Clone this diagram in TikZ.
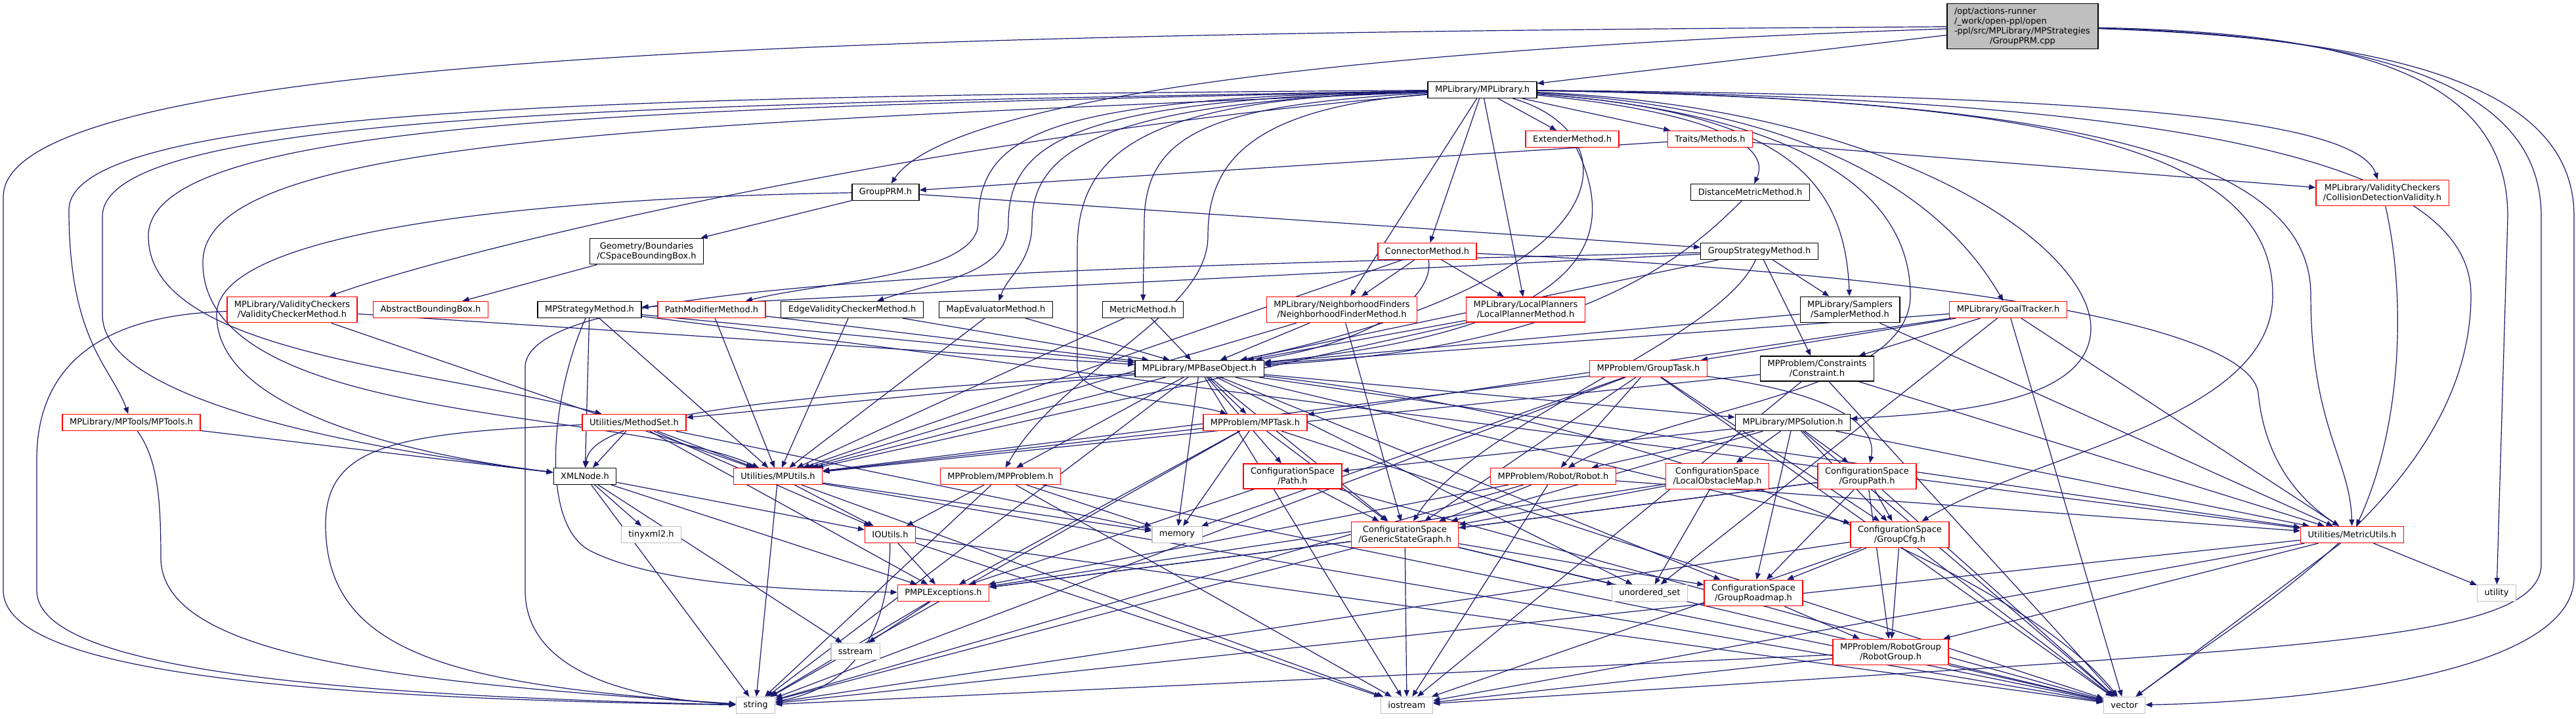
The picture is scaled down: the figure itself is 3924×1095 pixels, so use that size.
\documentclass[tikz,border=0pt]{standalone}
\usepackage{fontspec}
\setmainfont{DejaVu Sans}
\usepackage{tikz}
\usetikzlibrary{arrows.meta,backgrounds}
\usepackage{xcolor}
\definecolor{edgeblue}{RGB}{25,25,112}
\definecolor{truncred}{RGB}{255,0,0}
\definecolor{sysgray}{RGB}{191,191,191}

\begin{document}
\begin{tikzpicture}[
    x=1pt, y=-1pt,
    font=\fontsize{13}{15}\selectfont,
    box/.style={rectangle, draw=black, fill=white, line width=1.3pt, inner xsep=11pt, inner ysep=6pt, minimum height=25pt, align=center},
    redbox/.style={box, draw=truncred},
    sysbox/.style={box, draw=sysgray},
    rootbox/.style={box, fill=sysgray, align=left},
    arrow/.style={-{Triangle[length=10pt, width=8pt]}, draw=edgeblue, line width=1.2pt}
]
    \useasboundingbox (0,0) rectangle (3924,1095);

    % Root file
    \node[rootbox, text width=208pt] (root) at (3081,40) {/opt/actions-runner\\/\_work/open-ppl/open\\-ppl/src/MPLibrary/MPStrategies\\\makebox[\hsize]{/GroupPRM.cpp}};

    % Library headers
    \node[box] (mplib) at (2258,137) {MPLibrary/MPLibrary.h};
    \node[redbox] (ext) at (2395,212) {ExtenderMethod.h};
    \node[redbox] (traits) at (2605,212) {Traits/Methods.h};
    \node[box] (dist) at (2666,293) {DistanceMetricMethod.h};
    \node[box] (gprm) at (1349,293) {GroupPRM.h};
    \node[redbox] (cdv) at (3629,294) {MPLibrary/ValidityCheckers\\/CollisionDetectionValidity.h};
    \node[box] (csbb) at (985,383) {Geometry/Boundaries\\/CSpaceBoundingBox.h};
    \node[redbox] (conn) at (2174,383) {ConnectorMethod.h};
    \node[box] (gsm) at (2680,383) {GroupStrategyMethod.h};

    % Method headers
    \node[redbox] (vcm) at (445,472) {MPLibrary/ValidityCheckers\\/ValidityCheckerMethod.h};
    \node[redbox] (abb) at (656,472) {AbstractBoundingBox.h};
    \node[box] (mpsm) at (898,472) {MPStrategyMethod.h};
    \node[redbox] (pmm) at (1084,472) {PathModifierMethod.h};
    \node[box] (evcm) at (1298,472) {EdgeValidityCheckerMethod.h};
    \node[box] (mapeval) at (1517,472) {MapEvaluatorMethod.h};
    \node[box] (metric) at (1741,472) {MetricMethod.h};
    \node[redbox] (nfm) at (2044,472) {MPLibrary/NeighborhoodFinders\\/NeighborhoodFinderMethod.h};
    \node[redbox] (lpm) at (2324,472) {MPLibrary/LocalPlanners\\/LocalPlannerMethod.h};
    \node[box] (smp) at (2818,472) {MPLibrary/Samplers\\/SamplerMethod.h};
    \node[redbox] (goal) at (3059,472) {MPLibrary/GoalTracker.h};

    % Base object and problem headers
    \node[box] (base) at (1827,562) {MPLibrary/MPBaseObject.h};
    \node[redbox] (gtask) at (2511,562) {MPProblem/GroupTask.h};
    \node[box] (cons) at (2768,562) {MPProblem/Constraints\\/Constraint.h};
    \node[redbox] (tools) at (200,644) {MPLibrary/MPTools/MPTools.h};
    \node[redbox] (mset) at (966,644) {Utilities/MethodSet.h};
    \node[redbox] (task) at (1912,644) {MPProblem/MPTask.h};
    \node[box] (sol) at (2731,644) {MPLibrary/MPSolution.h};
    \node[box] (xml) at (891,726) {XMLNode.h};
    \node[redbox] (utils) at (1185,726) {Utilities/MPUtils.h};
    \node[redbox] (prob) at (1524,726) {MPProblem/MPProblem.h};
    \node[redbox] (path) at (1969,726) {ConfigurationSpace\\/Path.h};
    \node[redbox] (robot) at (2366,726) {MPProblem/Robot/Robot.h};
    \node[redbox] (lom) at (2616,726) {ConfigurationSpace\\/LocalObstacleMap.h};
    \node[redbox] (gpath) at (2844,726) {ConfigurationSpace\\/GroupPath.h};

    % Lower headers
    \node[redbox] (mutil) at (3583,815) {Utilities/MetricUtils.h};
    \node[sysbox] (tinyxml) at (992,815) {tinyxml2.h};
    \node[redbox] (ioutils) at (1356,815) {IOUtils.h};
    \node[sysbox] (memory) at (1793,815) {memory};
    \node[redbox] (gsg) at (2140,815) {ConfigurationSpace\\/GenericStateGraph.h};
    \node[redbox] (gcfg) at (2894,815) {ConfigurationSpace\\/GroupCfg.h};
    \node[redbox] (pmplex) at (1437,904) {PMPLExceptions.h};
    \node[sysbox] (uset) at (2513,904) {unordered\_set};
    \node[redbox] (groad) at (2671,904) {ConfigurationSpace\\/GroupRoadmap.h};
    \node[sysbox] (utility) at (3803,904) {utility};
    \node[sysbox] (sstream) at (1303,993) {sstream};
    \node[redbox] (rgroup) at (2880,994) {MPProblem/RobotGroup\\/RobotGroup.h};
    \node[sysbox] (string) at (1151,1075) {string};
    \node[sysbox] (iostream) at (2143,1075) {iostream};
    \node[sysbox] (vector) at (3236,1075) {vector};

    \begin{scope}[on background layer]
    % Arrows from the root file
    \draw[arrow] (root) -- (mplib);
    \draw[arrow] (root) .. controls (1900,80) and (1430,170) .. (gprm);
    \draw[arrow] (root) .. controls (1500,50) and (5,70) .. (5,300) -- (5,900) .. controls (5,1030) and (500,1065) .. (string);
    \draw[arrow] (root) .. controls (3600,50) and (3820,120) .. (3820,330) -- (utility);
    \draw[arrow] (root) .. controls (3650,55) and (3871,140) .. (3871,330) -- (3871,860) .. controls (3871,960) and (3600,980) .. (3000,1020) -- (iostream);
    \draw[arrow] (root) .. controls (3700,60) and (3921,150) .. (3921,330) -- (3921,880) .. controls (3921,1030) and (3500,1070) .. (vector);

    % Arrows from MPLibrary.h
    \draw[arrow] (mplib) .. controls (1400,210) and (700,380) .. (vcm);
    \draw[arrow] (mplib) .. controls (1000,146) and (105,160) .. (105,320) .. controls (105,520) and (170,560) .. (tools);
    \draw[arrow] (mplib) .. controls (1000,160) and (156,170) .. (156,330) -- (156,480) .. controls (156,620) and (600,690) .. (xml);
    \draw[arrow] (mplib) .. controls (1000,165) and (226,180) .. (226,360) .. controls (226,540) and (650,560) .. (mset);
    \draw[arrow] (mplib) .. controls (1000,190) and (309,210) .. (309,400) .. controls (309,650) and (950,620) .. (utils);
    \draw[arrow] (mplib) .. controls (1600,150) and (1490,200) .. (1490,340) .. controls (1490,420) and (1250,430) .. (pmm);
    \draw[arrow] (mplib) .. controls (1650,152) and (1536,210) .. (1536,340) .. controls (1536,420) and (1420,430) .. (evcm);
    \draw[arrow] (mplib) .. controls (1700,155) and (1572,220) .. (1572,340) .. controls (1572,400) and (1535,420) .. (mapeval);
    \draw[arrow] (mplib) .. controls (1850,160) and (1743,200) .. (1743,340) -- (metric);
    \draw[arrow] (mplib) .. controls (1760,150) and (1641,220) .. (1641,380) -- (1641,560) .. controls (1641,610) and (1800,610) .. (task);
    \draw[arrow] (mplib) .. controls (1900,165) and (1840,250) .. (1840,360) .. controls (1840,480) and (1620,560) .. (prob);
    \draw[arrow] (mplib) -- (nfm);
    \draw[arrow] (mplib) -- (conn);
    \draw[arrow] (mplib) -- (lpm);
    \draw[arrow] (mplib) -- (ext);
    \draw[arrow] (mplib) -- (traits);
    \draw[arrow] (mplib) .. controls (2600,170) and (2700,220) .. (dist);
    \draw[arrow] (mplib) .. controls (2480,200) and (2500,420) .. (base);
    \draw[arrow] (mplib) .. controls (2700,170) and (2810,260) .. (smp);
    \draw[arrow] (mplib) .. controls (2760,175) and (2910,300) .. (2910,450) .. controls (2910,600) and (2550,620) .. (robot);
    \draw[arrow] (mplib) .. controls (2760,165) and (2960,300) .. (goal);
    \draw[arrow] (mplib) .. controls (2900,165) and (3185,380) .. (3185,500) .. controls (3185,620) and (2950,630) .. (sol);
    \draw[arrow] (mplib) .. controls (3200,145) and (3590,180) .. (cdv);
    \draw[arrow] (mplib) .. controls (3100,150) and (3462,220) .. (3462,450) .. controls (3462,640) and (3100,690) .. (gcfg);
    \draw[arrow] (mplib) .. controls (3200,150) and (3520,250) .. (3520,450) .. controls (3520,650) and (3580,700) .. (mutil);
    \draw[arrow] (mplib) .. controls (3350,150) and (3764,250) .. (3764,450) .. controls (3764,750) and (3400,950) .. (vector);

    % Arrows from the strategy headers
    \draw[arrow] (gprm) -- (csbb);
    \draw[arrow] (gprm) -- (gsm);
    \draw[arrow] (gprm) .. controls (900,300) and (330,340) .. (330,480) .. controls (330,620) and (600,690) .. (xml);
    \draw[arrow] (traits) -- (gprm);
    \draw[arrow] (traits) -- (cdv);
    \draw[arrow] (csbb) -- (abb);
    \draw[arrow] (cdv) .. controls (3665,450) and (3660,650) .. (mutil);
    \draw[arrow] (conn) -- (nfm);
    \draw[arrow] (conn) -- (lpm);
    \draw[arrow] (conn) .. controls (2185,450) and (2100,520) .. (base);
    \draw[arrow] (conn) -- (utils);
    \draw[arrow] (conn) .. controls (3000,420) and (3430,500) .. (3440,600) .. controls (3450,700) and (3500,760) .. (mutil);
    \draw[arrow] (gsm) -- (smp);
    \draw[arrow] (gsm) -- (cons);
    \draw[arrow] (gsm) -- (base);
    \draw[arrow] (gsm) -- (mpsm);
    \draw[arrow] (gsm) .. controls (1500,410) and (800,430) .. (800,560) -- (800,900) .. controls (800,1020) and (950,1065) .. (string);
    \draw[arrow] (gsm) .. controls (2620,520) and (2250,640) .. (gsg);

    % Arrows from the method headers
    \draw[arrow] (vcm) -- (base);
    \draw[arrow] (vcm) -- (utils);
    \draw[arrow] (vcm) .. controls (150,480) and (56,560) .. (56,700) -- (56,900) .. controls (56,1020) and (500,1060) .. (string);
    \draw[arrow] (mpsm) -- (base);
    \draw[arrow] (mpsm) -- (xml);
    \draw[arrow] (mpsm) -- (utils);
    \draw[arrow] (mpsm) .. controls (840,600) and (820,800) .. (900,840) .. controls (1000,890) and (1200,900) .. (pmplex);
    \draw[arrow] (mpsm) -- (mutil);
    \draw[arrow] (pmm) -- (base);
    \draw[arrow] (pmm) -- (utils);
    \draw[arrow] (evcm) -- (base);
    \draw[arrow] (evcm) -- (utils);
    \draw[arrow] (mapeval) -- (base);
    \draw[arrow] (mapeval) -- (utils);
    \draw[arrow] (metric) -- (base);
    \draw[arrow] (metric) -- (utils);
    \draw[arrow] (nfm) -- (base);
    \draw[arrow] (nfm) -- (utils);
    \draw[arrow] (nfm) -- (gsg);
    \draw[arrow] (lpm) -- (base);
    \draw[arrow] (lpm) -- (utils);
    \draw[arrow] (ext) .. controls (2460,350) and (2450,500) .. (base);
    \draw[arrow] (dist) .. controls (2560,400) and (2400,530) .. (base);
    \draw[arrow] (smp) -- (base);
    \draw[arrow] (smp) -- (mutil);
    \draw[arrow] (goal) -- (gtask);
    \draw[arrow] (goal) -- (cons);
    \draw[arrow] (goal) -- (task);
    \draw[arrow] (goal) -- (base);
    \draw[arrow] (goal) -- (mutil);
    \draw[arrow] (goal) -- (vector);
    \draw[arrow] (goal) -- (uset);

    % Arrows from MPBaseObject.h
    \draw[arrow] (base) -- (mset);
    \draw[arrow] (base) -- (utils);
    \draw[arrow] (base) -- (task);
    \draw[arrow] (base) -- (prob);
    \draw[arrow] (base) -- (path);
    \draw[arrow] (base) -- (sol);
    \draw[arrow] (base) -- (gsg);
    \draw[arrow] (base) -- (memory);
    \draw[arrow] (base) .. controls (1300,600) and (900,620) .. (xml);
    \draw[arrow] (base) -- (string);
    \draw[arrow] (base) -- (iostream);
    \draw[arrow] (base) -- (uset);
    \draw[arrow] (base) -- (groad);
    \draw[arrow] (base) -- (gcfg);
    \draw[arrow] (base) -- (mutil);
    \draw[arrow] (base) .. controls (2600,650) and (3100,900) .. (vector);

    % Arrows from the problem headers
    \draw[arrow] (task) -- (utils);
    \draw[arrow] (task) -- (memory);
    \draw[arrow] (task) -- (pmplex);
    \draw[arrow] (task) -- (string);
    \draw[arrow] (task) -- (gsg);
    \draw[arrow] (task) -- (vector);
    \draw[arrow] (gtask) -- (utils);
    \draw[arrow] (gtask) -- (memory);
    \draw[arrow] (gtask) -- (robot);
    \draw[arrow] (gtask) -- (gsg);
    \draw[arrow] (gtask) .. controls (2800,600) and (2860,650) .. (gpath);
    \draw[arrow] (gtask) -- (gcfg);
    \draw[arrow] (gtask) -- (vector);
    \draw[arrow] (gtask) -- (string);
    \draw[arrow] (cons) -- (utils);
    \draw[arrow] (cons) -- (mutil);
    \draw[arrow] (cons) -- (vector);
    \draw[arrow] (cons) -- (iostream);
    \draw[arrow] (sol) -- (path);
    \draw[arrow] (sol) -- (robot);
    \draw[arrow] (sol) -- (lom);
    \draw[arrow] (sol) -- (gpath);
    \draw[arrow] (sol) -- (gsg);
    \draw[arrow] (sol) -- (groad);
    \draw[arrow] (sol) -- (gcfg);
    \draw[arrow] (sol) -- (mutil);
    \draw[arrow] (sol) -- (vector);

    % Arrows from the utility headers
    \draw[arrow] (mset) -- (xml);
    \draw[arrow] (mset) -- (utils);
    \draw[arrow] (mset) -- (ioutils);
    \draw[arrow] (mset) -- (pmplex);
    \draw[arrow] (mset) -- (memory);
    \draw[arrow] (mset) .. controls (600,660) and (496,680) .. (496,800) .. controls (496,1000) and (700,1045) .. (string);
    \draw[arrow] (xml) -- (tinyxml);
    \draw[arrow] (xml) -- (ioutils);
    \draw[arrow] (xml) -- (pmplex);
    \draw[arrow] (xml) -- (sstream);
    \draw[arrow] (xml) -- (string);
    \draw[arrow] (tools) -- (xml);
    \draw[arrow] (tools) .. controls (240,700) and (245,760) .. (245,850) .. controls (245,1000) and (600,1040) .. (string);
    \draw[arrow] (utils) -- (ioutils);
    \draw[arrow] (utils) -- (memory);
    \draw[arrow] (utils) -- (string);
    \draw[arrow] (utils) -- (iostream);
    \draw[arrow] (utils) -- (vector);
    \draw[arrow] (prob) -- (ioutils);
    \draw[arrow] (prob) -- (memory);
    \draw[arrow] (prob) -- (string);
    \draw[arrow] (prob) -- (iostream);
    \draw[arrow] (prob) -- (vector);

    % Arrows from the configuration space headers
    \draw[arrow] (path) -- (gsg);
    \draw[arrow] (path) -- (pmplex);
    \draw[arrow] (path) -- (vector);
    \draw[arrow] (robot) -- (gsg);
    \draw[arrow] (robot) -- (pmplex);
    \draw[arrow] (robot) -- (iostream);
    \draw[arrow] (robot) -- (string);
    \draw[arrow] (robot) -- (mutil);
    \draw[arrow] (lom) -- (gsg);
    \draw[arrow] (lom) -- (uset);
    \draw[arrow] (lom) -- (pmplex);
    \draw[arrow] (gpath) -- (gsg);
    \draw[arrow] (gpath) -- (gcfg);
    \draw[arrow] (gpath) -- (groad);
    \draw[arrow] (gpath) -- (rgroup);
    \draw[arrow] (gpath) -- (vector);
    \draw[arrow] (gpath) -- (pmplex);
    \draw[arrow] (mutil) -- (utility);
    \draw[arrow] (mutil) -- (vector);
    \draw[arrow] (mutil) -- (iostream);
    \draw[arrow] (mutil) -- (string);
    \draw[arrow] (mutil) -- (rgroup);
    \draw[arrow] (ioutils) -- (pmplex);
    \draw[arrow] (ioutils) .. controls (1355,900) and (1340,1040) .. (string);
    \draw[arrow] (ioutils) -- (iostream);
    \draw[arrow] (ioutils) -- (vector);
    \draw[arrow] (gsg) -- (uset);
    \draw[arrow] (gsg) -- (iostream);
    \draw[arrow] (gsg) -- (vector);
    \draw[arrow] (gsg) -- (string);
    \draw[arrow] (gsg) -- (pmplex);
    \draw[arrow] (gsg) -- (groad);
    \draw[arrow] (gcfg) -- (groad);
    \draw[arrow] (gcfg) -- (rgroup);
    \draw[arrow] (gcfg) -- (vector);
    \draw[arrow] (gcfg) -- (iostream);
    \draw[arrow] (gcfg) -- (string);
    \draw[arrow] (pmplex) -- (sstream);
    \draw[arrow] (pmplex) -- (string);
    \draw[arrow] (groad) -- (rgroup);
    \draw[arrow] (rgroup) -- (string);
    \draw[arrow] (rgroup) -- (iostream);
    \draw[arrow] (rgroup) -- (vector);
    \end{scope}
\end{tikzpicture}
\end{document}
